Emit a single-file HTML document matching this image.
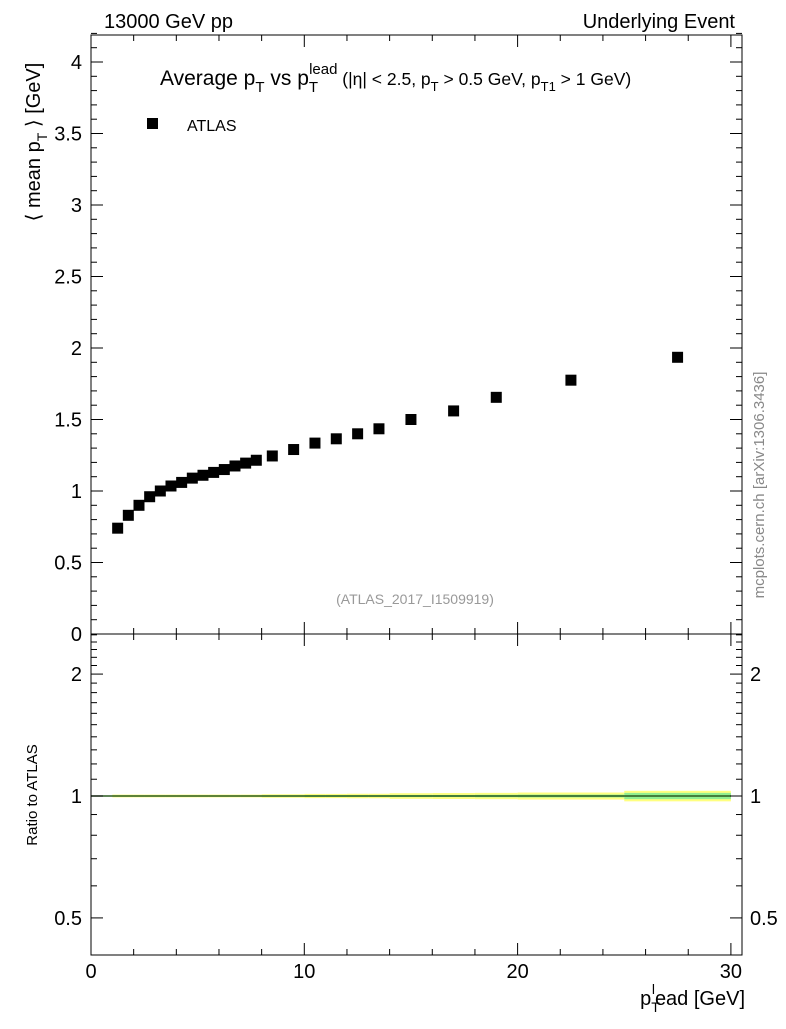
<!DOCTYPE html>
<html><head><meta charset="utf-8"><style>
body{margin:0;background:#fff}
text{font-family:"Liberation Sans",sans-serif;fill:#000}
</style></head><body>
<svg id="c" width="786" height="1024" viewBox="0 0 786 1024" xmlns="http://www.w3.org/2000/svg">
<text x="104" y="28" font-size="20">13000 GeV pp</text>
<text x="735" y="28" font-size="20" text-anchor="end">Underlying Event</text>
<text x="160" y="85" font-size="21">Average p<tspan font-size="15" dy="7">T</tspan><tspan dy="-7"> vs p</tspan><tspan font-size="15" dy="7">T</tspan><tspan font-size="15" dx="-9" dy="-18">lead</tspan><tspan font-size="17.5" dy="11"> (|η| &lt; 2.5, p</tspan><tspan font-size="13" dy="6">T</tspan><tspan font-size="17.5" dy="-6"> &gt; 0.5 GeV, p</tspan><tspan font-size="13" dy="6">T1</tspan><tspan font-size="17.5" dy="-6"> &gt; 1 GeV)</tspan></text>
<rect x="147" y="118" width="11" height="11" fill="#000"/>
<text x="187" y="131" font-size="16">ATLAS</text>
<text x="415" y="604" font-size="14" style="fill:#999" text-anchor="middle">(ATLAS_2017_I1509919)</text>
<text transform="translate(764,485) rotate(-90)" font-size="15" style="fill:#888" text-anchor="middle">mcplots.cern.ch [arXiv:1306.3436]</text>
<text transform="translate(40,142) rotate(-90)" font-size="20" text-anchor="middle">⟨ mean p<tspan font-size="14" dy="7">T</tspan><tspan dy="-7"> ⟩ [GeV]</tspan></text>
<text transform="translate(37,795) rotate(-90)" font-size="15" text-anchor="middle">Ratio to ATLAS</text>
<text x="745" y="1005" font-size="20" text-anchor="end">p<tspan font-size="14" dy="7">T</tspan><tspan font-size="14" dx="-8" dy="-18">l</tspan><tspan dy="11">ead [GeV]</tspan></text>
<g id="g"></g>
</svg>
<script>
const xVals=[1.25,1.75,2.25,2.75,3.25,3.75,4.25,4.75,5.25,5.75,6.25,6.75,7.25,7.75,8.5,9.5,10.5,11.5,12.5,13.5,15,17,19,22.5,27.5];
const yVals=[0.74,0.83,0.90,0.96,1.00,1.035,1.06,1.09,1.11,1.13,1.15,1.175,1.195,1.215,1.245,1.29,1.335,1.365,1.40,1.435,1.50,1.56,1.655,1.775,1.935];
const binLo=[1,1.5,2,2.5,3,3.5,4,4.5,5,5.5,6,6.5,7,7.5,8,9,10,11,12,13,14,16,18,20,25];
const binHi=[1.5,2,2.5,3,3.5,4,4.5,5,5.5,6,6.5,7,7.5,8,9,10,11,12,13,14,16,18,20,25,30];
const errYellow=[0.008,0.008,0.008,0.008,0.008,0.008,0.008,0.008,0.008,0.008,0.008,0.008,0.008,0.008,0.01,0.01,0.012,0.012,0.013,0.013,0.016,0.017,0.018,0.02,0.03];
const errGreen=[0.003,0.003,0.003,0.003,0.003,0.003,0.003,0.003,0.003,0.003,0.003,0.003,0.003,0.003,0.004,0.004,0.005,0.005,0.005,0.005,0.006,0.006,0.007,0.008,0.018];
const yTicks=[0,0.5,1,1.5,2,2.5,3,3.5,4];
const yTickLabels=["0","0.5","1","1.5","2","2.5","3","3.5","4"];
const xTicks=[0,10,20,30];
const rTicks=[0.5,1,2];
const ns="http://www.w3.org/2000/svg",g=document.getElementById('g');
const L=91,R=742,T=35,M=634,B=955;
const X=v=>91+v*21.33;
const Y=v=>634-v*143;
const RY=v=>796-Math.log10(v)*405;
function el(t,a,name,txt){const e=document.createElementNS(ns,t);for(const k in a)e.setAttribute(k,a[k]);


if(txt!==undefined)e.textContent=txt;g.appendChild(e);return e;}
binLo.forEach((lo,i)=>{
el('rect',{x:X(lo),y:RY(1+errYellow[i]),width:X(binHi[i])-X(lo),height:RY(1-errYellow[i])-RY(1+errYellow[i]),fill:'#ffff80'},'ratio-band-yellow');
el('rect',{x:X(lo),y:RY(1+errGreen[i]),width:X(binHi[i])-X(lo),height:RY(1-errGreen[i])-RY(1+errGreen[i]),fill:'#90ee90'},'ratio-band-green');
});
el('line',{x1:X(0),x2:X(30),y1:RY(1),y2:RY(1),stroke:'#2a5a20','stroke-width':1.5},'ratio-line');
el('rect',{x:L,y:T,width:R-L,height:M-T,fill:'none',stroke:'#000','stroke-width':1},'main-frame');
el('rect',{x:L,y:M,width:R-L,height:B-M,fill:'none',stroke:'#000','stroke-width':1},'ratio-frame');
for(let v=0;v<=30;v+=2){const big=v%10==0,l=big?12:6;
[[M,-1],[T,1],[B,-1],[M,1]].forEach(([y,d])=>el('line',{x1:X(v),x2:X(v),y1:y,y2:y+d*l,stroke:'#000'},'x-tick'));}
xTicks.forEach(v=>el('text',{x:X(v),y:978,'font-size':20,'text-anchor':'middle'},'x-tick-label',String(v)));
for(let k=0;k<=42;k++){const v=k/10,big=k%5==0,l=big?12:6;
el('line',{x1:L,x2:L+l,y1:Y(v),y2:Y(v),stroke:'#000'},'y-tick');
el('line',{x1:R,x2:R-l,y1:Y(v),y2:Y(v),stroke:'#000'},'y-tick');}
yTicks.forEach((v,i)=>el('text',{x:82,y:Y(v)+7,'font-size':20,'text-anchor':'end'},'y-tick-label',yTickLabels[i]));
for(let k=5;k<=25;k++){const v=k/10,big=(k==5||k==10||k==20),l=big?12:6;
el('line',{x1:L,x2:L+l,y1:RY(v),y2:RY(v),stroke:'#000'},'ratio-tick');
el('line',{x1:R,x2:R-l,y1:RY(v),y2:RY(v),stroke:'#000'},'ratio-tick');}
rTicks.forEach(v=>{el('text',{x:82,y:RY(v)+7,'font-size':20,'text-anchor':'end'},'ratio-tick-label',String(v));
el('text',{x:750,y:RY(v)+7,'font-size':20},'ratio-tick-label-right',String(v));});
xVals.forEach((x,i)=>el('rect',{x:X(x)-5.5,y:Y(yVals[i])-5.5,width:11,height:11,fill:'#000'},'data-point'));
</script>
</body></html>
